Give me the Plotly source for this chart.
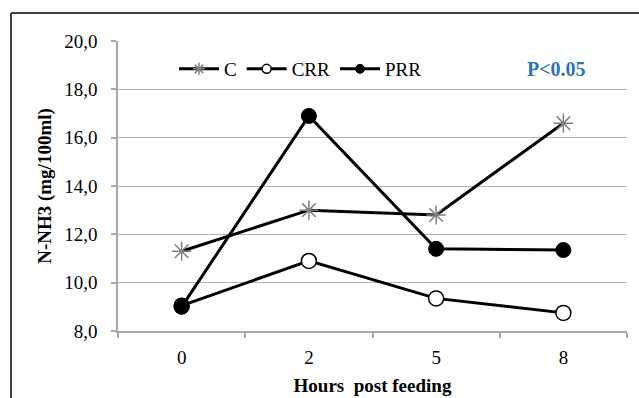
import plotly.graph_objects as go

hours = ["0", "2", "5", "8"]
c_vals = [11.3, 13.0, 12.8, 16.6]
crr_vals = [9.05, 10.9, 9.35, 8.75]
prr_vals = [9.0, 16.9, 11.4, 11.35]
y_ticks = [8, 10, 12, 14, 16, 18, 20]
y_tick_text = ["8,0", "10,0", "12,0", "14,0", "16,0", "18,0", "20,0"]

FONT = "Liberation Serif"
FS = 19
W, H = 639, 398
L, R, T, B = 118, 12, 41, 67
pw, ph = W - L - R, H - T - B

series = [
    ("C", c_vals, dict(symbol="asterisk-open", color="#808080", lw=1.5)),
    ("CRR", crr_vals, dict(symbol="circle", color="white", lw=1.5)),
    ("PRR", prr_vals, dict(symbol="circle", color="black", lw=1)),
]
plot_sizes = {"C": 16, "CRR": 15, "PRR": 15}
legend_sizes = {"C": 10, "CRR": 9, "PRR": 9}

fig = go.Figure()
for name, vals, m in series:
    line_col = "#808080" if name == "C" else "black"
    fig.add_trace(go.Scatter(
        x=hours, y=vals, name=name, mode="lines+markers", showlegend=False,
        line=dict(color="black", width=3),
        marker=dict(symbol=m["symbol"], size=plot_sizes[name], color=m["color"],
                    line=dict(color=line_col, width=m["lw"])),
    ))
for name, vals, m in series:
    line_col = "#808080" if name == "C" else "black"
    fig.add_trace(go.Scatter(
        x=[None], y=[None], name=name, mode="lines+markers", showlegend=True,
        line=dict(color="black", width=3),
        marker=dict(symbol=m["symbol"], size=legend_sizes[name], color=m["color"],
                    line=dict(color=line_col, width=m["lw"])),
    ))

def px_x(p):
    return (p - L) / pw

def px_y(p):
    return (H - B - p) / ph

fig.add_shape(type="line", xref="paper", yref="paper",
              x0=px_x(11), x1=px_x(11), y0=px_y(H + 5), y1=px_y(13),
              line=dict(color="#404040", width=2))
fig.add_shape(type="line", xref="paper", yref="paper",
              x0=px_x(11), x1=px_x(W + 5), y0=px_y(13), y1=px_y(13),
              line=dict(color="#404040", width=2))

fig.add_annotation(text="<b>P<0.05</b>", xref="paper", yref="paper",
                   x=px_x(556), y=px_y(69), xanchor="center", yanchor="middle",
                   showarrow=False,
                   font=dict(family=FONT, size=20, color="#2E74B5"))

fig.update_layout(
    width=W, height=H,
    margin=dict(l=L, r=R, t=T, b=B, autoexpand=False),
    paper_bgcolor="white", plot_bgcolor="white",
    font=dict(family=FONT, size=FS, color="black"),
    showlegend=True,
    legend=dict(orientation="h", x=px_x(174), y=px_y(69), xanchor="left",
                yanchor="middle", bgcolor="rgba(0,0,0,0)",
                font=dict(family=FONT, size=FS), itemwidth=40,
                tracegroupgap=0),
    xaxis=dict(type="category", range=[-0.5, 3.5], showgrid=False,
               automargin=False,
               showline=True, linecolor="#a8a8a8", linewidth=1.5,
               ticks="outside", tickson="boundaries", ticklen=5,
               tickcolor="#a8a8a8", tickwidth=1.5,
               ticklabelstandoff=8,
               tickfont=dict(family=FONT, size=FS),
               title=dict(text="<b>Hours  post feeding</b>", standoff=12,
                          font=dict(family=FONT, size=FS)),
               zeroline=False),
    yaxis=dict(range=[8, 20], tickvals=y_ticks, ticktext=y_tick_text,
               automargin=False,
               showgrid=True, gridcolor="#b4b4b4", gridwidth=1.2,
               showline=True, linecolor="#a8a8a8", linewidth=1.5,
               ticks="outside", ticklen=5, tickcolor="#a8a8a8", tickwidth=1.5,
               ticklabelstandoff=10,
               tickfont=dict(family=FONT, size=FS),
               title=dict(text="<b>N-NH3 (mg/100ml)</b>", standoff=8,
                          font=dict(family=FONT, size=FS)),
               zeroline=False),
)

fig.write_html("out.html")
